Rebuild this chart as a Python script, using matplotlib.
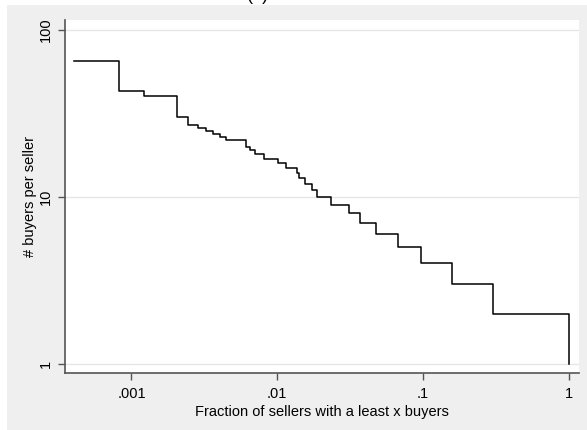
import matplotlib
matplotlib.use("Agg")
import matplotlib.pyplot as plt
from matplotlib.patches import Rectangle

# Fraction of sellers with at least y buyers (x) and number of buyers (y)
frac_sellers = [4.05e-4, 8.2e-4, 1.22e-3, 2.04e-3, 2.45e-3, 2.84e-3, 3.23e-3,
                3.65e-3, 4.06e-3, 4.46e-3, 6.12e-3, 6.52e-3, 6.99e-3, 8.17e-3,
                1.02e-2, 1.145e-2, 1.36e-2, 1.41e-2, 1.54e-2, 1.73e-2, 1.87e-2,
                2.33e-2, 3.13e-2, 3.7e-2, 4.77e-2, 6.72e-2, 9.66e-2, 0.159,
                0.301, 1.0]
buyers = [65, 43, 40, 30, 27, 26, 25, 24, 23, 22, 20, 19, 18, 17, 16, 15, 14,
          13, 12, 11, 10, 9, 8, 7, 6, 5, 4, 3, 2, 1]

x_ticks = [0.001, 0.01, 0.1, 1]
x_tick_labels = [".001", ".01", ".1", "1"]
y_ticks = [1, 10, 100]
y_tick_labels = ["1", "10", "100"]

plt.rcParams['font.family'] = ['Liberation Sans', 'DejaVu Sans']

W, H = 587, 430
fig = plt.figure(figsize=(W / 100, H / 100), dpi=100, facecolor="white")

# Gray graph region behind the plot area
fig.patches.append(Rectangle((7 / W, 0), 1 - 7 / W, 1 - 5 / H,
                             transform=fig.transFigure, facecolor="#efefef",
                             edgecolor="none", zorder=-10))

ax = fig.add_axes([65 / W, 1 - 373 / H, (578.7 - 65) / W, (373 - 20) / H])
ax.set_zorder(1)
ax.set_facecolor("white")

ax.plot(frac_sellers, buyers, drawstyle="steps-post", color="black", lw=1.1)

ax.set_xscale("log")
ax.set_yscale("log")
ax.set_xlim(3.5e-4, 1.171)
ax.set_ylim(0.883, 114.8)

ax.set_xticks(x_ticks)
ax.set_xticklabels(x_tick_labels)
ax.set_yticks(y_ticks)
ax.set_yticklabels(y_tick_labels, rotation=90, va="center")
ax.minorticks_off()

ax.grid(True, axis="y", color="#e6e6e6", lw=1.0)
ax.set_axisbelow(True)

for side in ("top", "right"):
    ax.spines[side].set_visible(False)
for side in ("left", "bottom"):
    ax.spines[side].set_color("#555555")
    ax.spines[side].set_linewidth(1.2)

ax.tick_params(axis="both", direction="out", length=5, width=1.0,
               color="#555555", labelsize=10.5, labelcolor="black")
ax.tick_params(axis="x", pad=5)
ax.tick_params(axis="y", pad=4)

ax.set_xlabel("Fraction of sellers with a least x buyers", fontsize=10.5,
              labelpad=3)
ax.set_ylabel("# buyers per seller", fontsize=10.5, labelpad=1)

fig.text(258 / W, 1.0, "(a)", ha="center", va="baseline", fontsize=13)

fig.savefig("out.png", dpi=100, facecolor="white")
